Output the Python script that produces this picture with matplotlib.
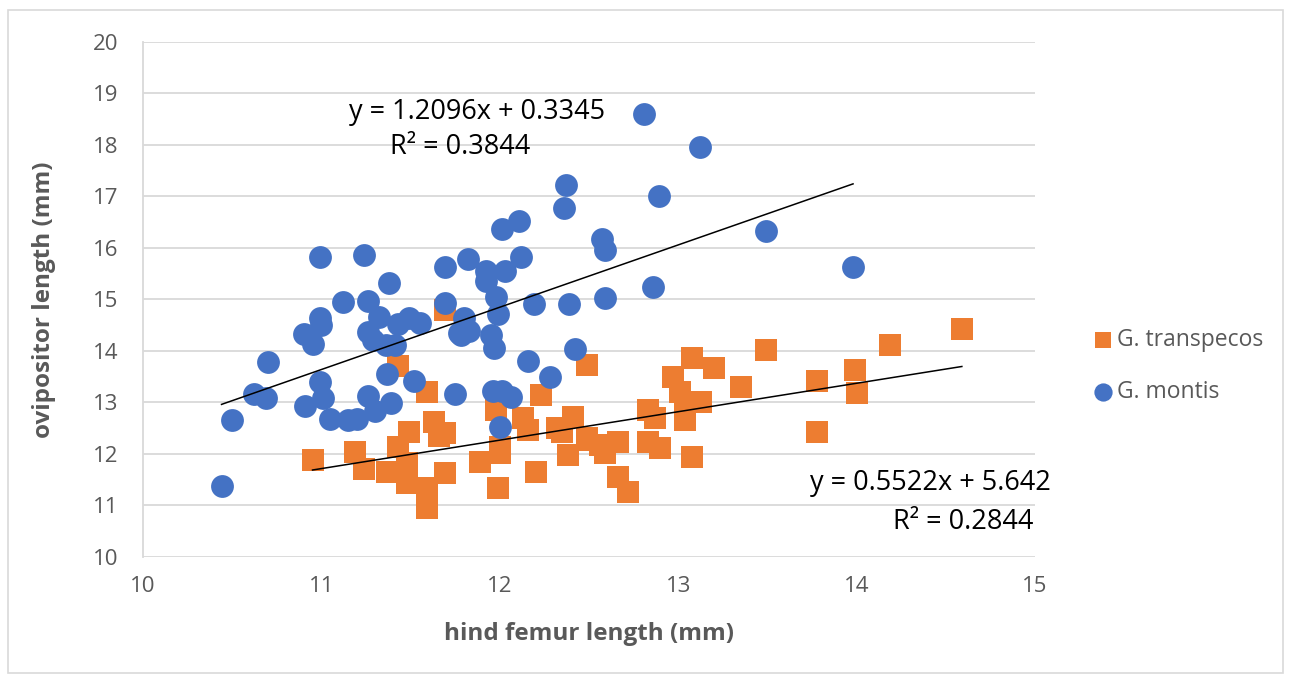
import numpy as np
import matplotlib.pyplot as plt
from matplotlib.patches import Rectangle

plt.rcParams['font.family'] = ['Open Sans', 'DejaVu Sans']

# G. montis (blue circles)
montis_x = [10.44, 10.50, 10.62, 10.69, 10.70, 10.90, 10.91, 10.95, 10.99, 11.00,
            10.99, 10.99, 11.01, 11.05, 11.12, 11.15, 11.20, 11.24, 11.26, 11.26,
            11.26, 11.29, 11.30, 11.32, 11.36, 11.37, 11.38, 11.39, 11.41, 11.43,
            11.49, 11.52, 11.55, 11.69, 11.69, 11.75, 11.77, 11.78, 11.80, 11.82,
            11.83, 11.92, 11.92, 11.95, 11.96, 11.97, 11.98, 11.99, 12.00, 12.01,
            12.01, 12.03, 12.06, 12.11, 12.12, 12.16, 12.19, 12.28, 12.36, 12.37,
            12.39, 12.42, 12.57, 12.59, 12.59, 12.81, 12.86, 12.89, 13.12, 13.49,
            13.98]
montis_y = [11.38, 12.66, 13.17, 13.09, 13.79, 14.33, 12.93, 14.14, 15.83, 14.50,
            14.64, 13.40, 13.09, 12.68, 14.95, 12.66, 12.68, 15.86, 14.97, 14.37,
            13.13, 14.21, 12.83, 14.66, 14.12, 13.55, 15.32, 12.99, 14.12, 14.52,
            14.64, 13.42, 14.54, 15.63, 14.93, 13.17, 14.35, 14.31, 14.64, 15.79,
            14.39, 15.56, 15.36, 14.31, 13.22, 14.06, 15.05, 14.72, 12.52, 16.37,
            13.22, 15.56, 13.11, 16.52, 15.83, 13.81, 14.91, 13.50, 16.78, 17.22,
            14.91, 14.04, 16.17, 15.96, 15.03, 18.60, 15.24, 17.01, 17.96, 16.33,
            15.63]

# G. transpecos (orange squares)
transpecos_x = [10.95, 11.19, 11.24, 11.37, 11.43, 11.43, 11.48, 11.48, 11.49, 11.59,
                11.59, 11.59, 11.63, 11.66, 11.69, 11.69, 11.69, 11.89, 11.98, 11.99,
                12.00, 12.00, 12.13, 12.16, 12.20, 12.23, 12.32, 12.35, 12.38, 12.41,
                12.49, 12.49, 12.49, 12.56, 12.59, 12.66, 12.66, 12.72, 12.83, 12.83,
                12.87, 12.90, 12.97, 13.01, 13.04, 13.04, 13.08, 13.08, 13.13, 13.20,
                13.35, 13.49, 13.78, 13.78, 13.99, 14.00, 14.19, 14.59]
transpecos_y = [11.88, 12.04, 11.70, 11.65, 13.71, 12.14, 11.83, 11.44, 12.43, 13.20,
                11.34, 10.95, 12.62, 12.35, 14.80, 11.63, 12.41, 11.84, 12.85, 11.34,
                12.14, 12.02, 12.69, 12.47, 11.65, 13.15, 12.51, 12.43, 11.98, 12.71,
                13.73, 12.31, 12.27, 12.17, 12.02, 12.23, 11.55, 11.26, 12.86, 12.23,
                12.70, 12.11, 13.50, 13.20, 12.91, 12.66, 13.86, 11.94, 13.01, 13.67,
                13.30, 14.02, 13.42, 12.42, 13.63, 13.18, 14.12, 14.43]

montis_fit = (1.2096, 0.3345)
transpecos_fit = (0.5522, 5.642)

blue = '#4472C4'
orange = '#ED7D31'
grey = '#595959'

fig = plt.figure(figsize=(12.91, 6.77), dpi=100)
ax = fig.add_axes([0.1108, 0.1773, 0.6909, 0.7607])

ax.scatter(transpecos_x, transpecos_y, marker='s', s=230, color=orange,
           linewidths=0, label='G. transpecos', zorder=3)
ax.scatter(montis_x, montis_y, marker='o', s=270, color=blue,
           linewidths=0, label='G. montis', zorder=4)

for xs, (m, b) in [(montis_x, montis_fit), (transpecos_x, transpecos_fit)]:
    xx = np.array([min(xs), max(xs)])
    ax.plot(xx, m * xx + b, color='black', lw=1.1, zorder=5)

eq_size = 19.5
ax.text(11.87, 18.64, 'y = 1.2096x + 0.3345', ha='center', va='center',
        fontsize=eq_size, color='black', zorder=6)
ax.text(11.78, 17.96, 'R² = 0.3844', ha='center', va='center',
        fontsize=eq_size, color='black', zorder=6)
ax.text(15.09, 11.44, 'y = 0.5522x + 5.642', ha='right', va='center',
        fontsize=eq_size, color='black', zorder=6)
ax.text(14.99, 10.68, 'R² = 0.2844', ha='right', va='center',
        fontsize=eq_size, color='black', zorder=6)

ax.set_xlim(10, 15)
ax.set_ylim(10, 20)
ax.set_xticks(range(10, 16))
ax.set_yticks(range(10, 21))
ax.grid(axis='y', color='#D9D9D9', lw=1.3, zorder=0)
ax.set_axisbelow(True)
for side in ['top', 'right', 'bottom']:
    ax.spines[side].set_visible(False)
ax.spines['left'].set_color('#D9D9D9')
ax.spines['left'].set_linewidth(1.3)
ax.tick_params(length=0, labelsize=16, labelcolor=grey)
ax.tick_params(axis='x', pad=14)
ax.tick_params(axis='y', pad=18)

ax.set_xlabel('hind femur length (mm)', fontsize=17.5, fontweight='bold',
              color=grey, labelpad=18)
ax.set_ylabel('ovipositor length (mm)', fontsize=17.5, fontweight='bold',
              color=grey, labelpad=26)

leg = ax.legend(loc='center left', bbox_to_anchor=(1.038, 0.371), frameon=False,
                fontsize=16.5, labelcolor=grey, markerscale=0.8,
                handletextpad=0.0, labelspacing=1.2, handlelength=1.2)

fig.patches.append(Rectangle((0.006, 0.006), 0.988, 0.979, transform=fig.transFigure,
                             fill=False, edgecolor='#D9D9D9', lw=1.2))

fig.savefig('out.png', dpi=100)
